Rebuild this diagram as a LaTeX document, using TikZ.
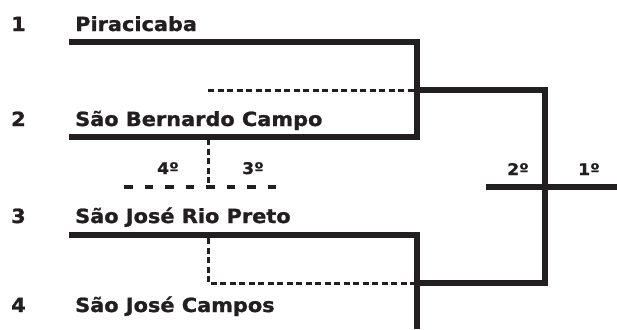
\documentclass[tikz,border=0pt]{standalone}
\usepackage{fontspec}
\setmainfont{DejaVu Sans}[FakeStretch=1.07, BoldFeatures={FakeBold=1.2}]
\definecolor{ink}{HTML}{231F20}
\tikzset{
  seed/.style={anchor=base west, inner sep=0pt, text=ink, font=\fontsize{19.5}{22}\selectfont\bfseries},
  team/.style={seed},
  place/.style={anchor=base, inner sep=0pt, text=ink, font=\fontsize{16}{18}\selectfont\bfseries},
  bracket/.style={ink, line width=6pt},
  loser/.style={ink, line width=3pt, dash pattern=on 6pt off 3.5pt},
  third/.style={ink, line width=3.5pt, dash pattern=on 8.5pt off 12pt},
}
\begin{document}
\begin{tikzpicture}[x=1pt, y=-1pt]
                    \useasboundingbox (0, 0) rectangle (617, 329);

                    % times
                    \node[seed] (n1) at (11, 31) {1};
                    \node[team] (t1) at (75, 31) {Piracicaba};
                    \node[seed] (n2) at (11, 126) {2};
                    \node[team] (t2) at (75, 126) {São Bernardo Campo};
                    \node[seed] (n3) at (11, 223) {3};
                    \node[team] (t3) at (75, 223) {São José Rio Preto};
                    \node[seed] (n4) at (11, 312) {4};
                    \node[team] (t4) at (75, 312) {São José Campos};

                    % pontos da chave
                    \coordinate (l1) at (69, 42);
                    \coordinate (l2) at (69, 137);
                    \coordinate (l3) at (69, 235);
                    \coordinate (s1) at (417, 90);
                    \coordinate (s2) at (417, 283);
                    \coordinate (fin) at (545, 187);
                    \coordinate (finl) at (486, 187);
                    \coordinate (finr) at (617, 187);
                    \coordinate (bot) at (417, 329);

                    % chave
                    \draw[bracket] (l1) -| (s1) |- (l2);
                    \draw[bracket] (l3) -| (bot);
                    \draw[bracket] (s1) -| (fin) |- (s2);
                    \draw[bracket] (finl)--(finr);

                    % perdedores
                    \coordinate (d1) at (208, 90);
                    \coordinate (d2) at (208, 139);
                    \coordinate (d3) at (208, 238);
                    \coordinate (th) at (208, 187);
                    \coordinate (thl) at (124, 187);
                    \coordinate (thr) at (283, 187);
                    \draw[loser] (d1)--(s1);
                    \draw[loser] (d2)--(th);
                    \draw[loser] (d3) |- (s2);
                    \draw[third] (thl)--(thr);

                    % colocações
                    \node[place] (p4) at (168, 174) {4º};
                    \node[place] (p3) at (253, 174) {3º};
                    \node[place] (p2) at (518, 175) {2º};
                    \node[place] (p1) at (589, 175) {1º};

                \end{tikzpicture}
\end{document}
